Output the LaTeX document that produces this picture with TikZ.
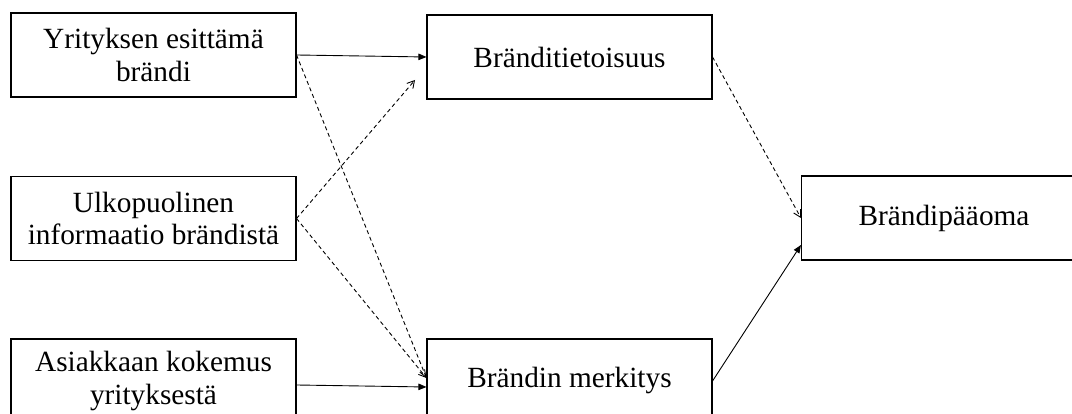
\documentclass[tikz,border=0pt]{standalone}
\usepackage{fontspec}
\setmainfont{Liberation Serif}
\usepackage{tikz}
\usetikzlibrary{arrows.meta}
\tikzstyle{box} = [draw, line width=1.1pt, minimum width=285pt, minimum height=84pt, inner sep=0pt, align=center, font=\fontsize{29.3}{32.5}\selectfont]
\tikzstyle{arrow} = [line width=0.9pt, -{Triangle[length=8pt,width=6.5pt]}]
\tikzstyle{dasharrow} = [line width=0.9pt, dash pattern=on 4pt off 3pt, -{Straight Barb[length=7pt,width=8pt]}]

\begin{document}
\begin{tikzpicture}[x=1pt,y=1pt]
 \path[use as bounding box, clip] (0,0) rectangle (1072,414);
  \node[box] (yritys) at (153.5,359) {Yrityksen esittämä\\brändi};
  \node[box] (ulko) at (153.5,195.5) {Ulkopuolinen\\informaatio brändistä};
  \node[box] (asiakas) at (153.5,33) {Asiakkaan kokemus\\yrityksestä};
  \node[box] (tietoisuus) at (569.5,357) {Bränditietoisuus};
  \node[box] (merkitys) at (569.5,33) {Brändin merkitys};
  \node[box] (paaoma) at (944,196) {Brändipääoma};
  \coordinate (tip) at (415,334);
 \draw [arrow] (yritys.east) -- (tietoisuus.west);
 \draw [dasharrow] (yritys.east) -- ([yshift=3pt]merkitys.west);
 \draw [dasharrow] (ulko.east) -- (tip);
 \draw [dasharrow] (ulko.east) -- ([yshift=3pt]merkitys.west);
 \draw [arrow] ([yshift=-4pt]asiakas.east) -- ([yshift=-6pt]merkitys.west);
 \draw [dasharrow] (tietoisuus.east) -- (paaoma.west);
 \draw [arrow] (merkitys.east) -- ([yshift=-27pt]paaoma.west);
\end{tikzpicture}
\end{document}
